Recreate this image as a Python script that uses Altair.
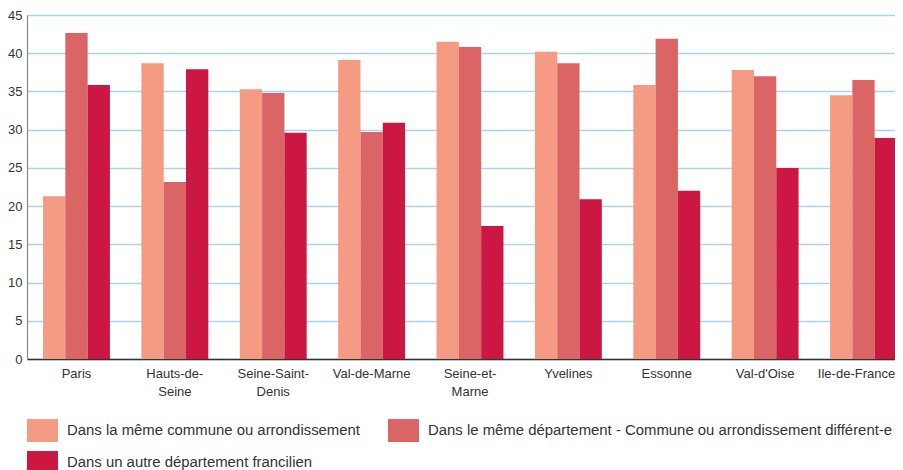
import altair as alt
import pandas as pd

categories = ["Paris", "Hauts-de-Seine", "Seine-Saint-Denis", "Val-de-Marne",
              "Seine-et-Marne", "Yvelines", "Essonne", "Val-d'Oise", "Ile-de-France"]
label_lines = {
    "Hauts-de-Seine": ["Hauts-de-", "Seine"],
    "Seine-Saint-Denis": ["Seine-Saint-", "Denis"],
    "Seine-et-Marne": ["Seine-et-", "Marne"],
}
series = [
    "Dans la même commune ou arrondissement",
    "Dans le même département - Commune ou arrondissement différent-e",
    "Dans un autre département francilien",
]
colors = ["#F59B83", "#DB6464", "#CC1743"]

s1 = [21.3, 38.7, 35.3, 39.1, 41.5, 40.2, 35.85, 37.8, 34.5]
s2 = [42.65, 23.15, 34.8, 29.7, 40.8, 38.7, 41.9, 37.0, 36.5]
s3 = [35.85, 37.9, 29.6, 30.9, 17.4, 20.9, 22.0, 25.0, 28.9]

rows = []
for vals, name in zip([s1, s2, s3], series):
    for c, v in zip(categories, vals):
        rows.append({"zone": c, "serie": name, "valeur": v})
df = pd.DataFrame(rows)

expr = "datum.label"
for k, v in label_lines.items():
    expr = f"datum.label == '{k}' ? ['{v[0]}', '{v[1]}'] : ({expr})"

chart = alt.Chart(df).mark_bar().encode(
    x=alt.X("zone:N", sort=categories, title=None,
            scale=alt.Scale(paddingInner=0.32, paddingOuter=0.163, range=[0, 886]),
            axis=alt.Axis(labelAngle=0, labelExpr=expr, labelFontSize=13,
                          labelColor="#333333", labelPadding=8, labelLineHeight=18,
                          labelOffset={"condition": {"test": "datum.value == 'Ile-de-France'",
                                                     "value": -7}, "value": 0},
                          ticks=False, domainColor="#333333", domainWidth=1.5,
                          labelFont="Liberation Sans", grid=False)),
    xOffset=alt.XOffset("serie:N", sort=series, scale=alt.Scale(paddingInner=0, paddingOuter=0)),
    y=alt.Y("valeur:Q", title=None,
            scale=alt.Scale(domain=[0, 45], nice=False),
            axis=alt.Axis(values=[0, 5, 10, 15, 20, 25, 30, 35, 40, 45], ticks=False,
                          labelFontSize=13, labelColor="#333333", labelPadding=5,
                          labelFont="Liberation Sans",
                          gridColor="#A9D4EF", gridWidth=1.3, domainColor="#888888",
                          domainWidth=1.2)),
    color=alt.Color("serie:N", sort=series,
                    scale=alt.Scale(domain=series, range=colors),
                    legend=alt.Legend(title=None, orient="none", legendX=0, legendY=400,
                                      columns=2, direction="horizontal",
                                      columnPadding=28, rowPadding=5,
                                      symbolType="M-1,-0.74H1V0.74H-1Z", symbolSize=961,
                                      symbolStrokeWidth=0, labelOffset=9,
                                      labelFontSize=14.9, labelColor="#333333",
                                      labelFont="Liberation Sans", labelLimit=0, padding=0)),
).properties(
    width=868, height=344,
    autosize=alt.AutoSizeParams(type="none"),
    padding={"left": 19, "top": 7, "right": 0, "bottom": 111}
).configure_view(stroke=None)

chart.save("out.html", embed_options={"renderer": "svg", "actions": False})
